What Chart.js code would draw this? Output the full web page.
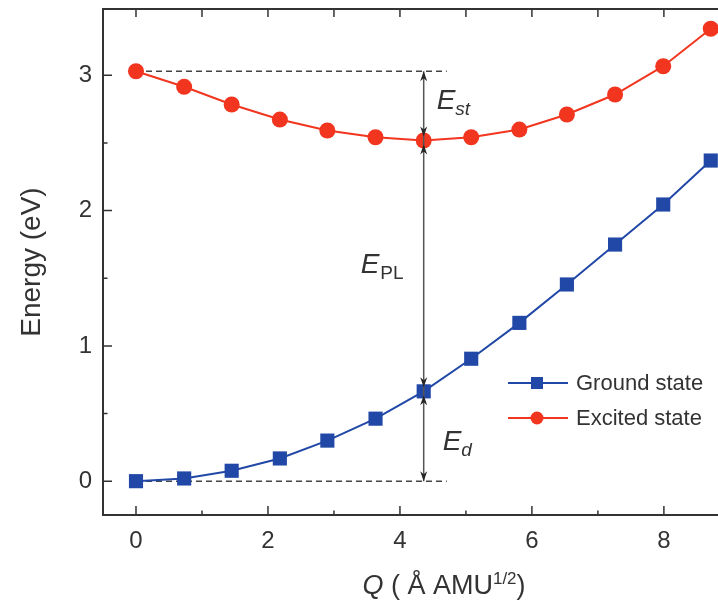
<!DOCTYPE html>
<html>
<head>
<meta charset="utf-8">
<script src="https://cdn.jsdelivr.net/npm/chart.js@4"></script>
<style>
  html, body { margin: 0; padding: 0; background: #ffffff; overflow: hidden; }
  canvas { display: block; }
</style>
</head>
<body>
<canvas id="cc" width="718" height="600"></canvas>
<script>
// Configuration coordinate Q (Å AMU^1/2)
const qValues = [0, 0.73, 1.45, 2.18, 2.90, 3.63, 4.36, 5.08, 5.81, 6.53, 7.26, 7.99, 8.71];
// Ground-state energy (eV)
const groundState = [0, 0.02, 0.077, 0.168, 0.30, 0.462, 0.664, 0.905, 1.170, 1.454, 1.749, 2.045, 2.37];
// Excited-state energy (eV)
const excitedState = [3.03, 2.915, 2.784, 2.673, 2.592, 2.542, 2.518, 2.542, 2.599, 2.71, 2.858, 3.067, 3.344];

const seriesNames = ['Ground state', 'Excited state'];
const xTickValues = [0, 2, 4, 6, 8];
const xMinorTicks = [1, 3, 5, 7];
const topTickValues = [0, 1, 2, 3, 4, 5, 6, 7, 8];
const yTickValues = [0, 1, 2, 3];
const yMinorTicks = [0.5, 1.5, 2.5];

// index of the excited-state minimum, where the energy arrows sit
const minIndex = 6;
// dashed reference lines run from Q = 0 to this Q
const refLineEnd = 4.71;

const FONT = '"Liberation Sans", Arial, Helvetica, sans-serif';
const AXIS = '#333333';
const BLUE = '#2148a6';
const RED = '#f1351f';

const toPoints = ys => qValues.map((q, i) => ({ x: q, y: ys[i] }));

function arrowHead(ctx, x, tipY, dir) {
  // dir = -1 points up, +1 points down
  const len = 10, half = 3.5;
  ctx.beginPath();
  ctx.moveTo(x, tipY);
  ctx.lineTo(x - half, tipY - dir * len);
  ctx.lineTo(x, tipY - dir * (len - 3));
  ctx.lineTo(x + half, tipY - dir * len);
  ctx.closePath();
  ctx.fill();
}

function subLabel(ctx, main, sub, x, baseline, subItalic) {
  ctx.font = 'italic 28px ' + FONT;
  ctx.textAlign = 'left';
  ctx.textBaseline = 'alphabetic';
  ctx.fillText(main, x, baseline);
  const w = ctx.measureText(main).width;
  ctx.font = (subItalic ? 'italic ' : '') + '19px ' + FONT;
  ctx.fillText(sub, x + w + (subItalic ? 0 : 1), baseline + 6);
}

const framePlugin = {
  id: 'frame',
  beforeDatasetsDraw(chart) {
    const { ctx, chartArea: a, scales: { x, y } } = chart;
    ctx.save();
    // axis box (left, bottom, top)
    ctx.strokeStyle = AXIS;
    ctx.lineWidth = 2;
    ctx.beginPath();
    ctx.moveTo(a.right + 2, a.top);
    ctx.lineTo(a.left, a.top);
    ctx.lineTo(a.left, a.bottom);
    ctx.lineTo(a.right + 2, a.bottom);
    ctx.stroke();

    // inward tick marks
    ctx.lineWidth = 1.5;
    ctx.beginPath();
    xTickValues.forEach(v => { const p = x.getPixelForValue(v); ctx.moveTo(p, a.bottom); ctx.lineTo(p, a.bottom - 9); });
    xMinorTicks.forEach(v => { const p = x.getPixelForValue(v); ctx.moveTo(p, a.bottom); ctx.lineTo(p, a.bottom - 4.5); });
    topTickValues.forEach(v => { const p = x.getPixelForValue(v); ctx.moveTo(p, a.top); ctx.lineTo(p, a.top + 8); });
    yTickValues.forEach(v => { const p = y.getPixelForValue(v); ctx.moveTo(a.left, p); ctx.lineTo(a.left + 9, p); });
    yMinorTicks.forEach(v => { const p = y.getPixelForValue(v); ctx.moveTo(a.left, p); ctx.lineTo(a.left + 4.5, p); });
    ctx.stroke();

    // dashed reference levels
    ctx.strokeStyle = '#444444';
    ctx.lineWidth = 1.4;
    ctx.setLineDash([6, 4]);
    const x0 = x.getPixelForValue(qValues[0]);
    const x1 = x.getPixelForValue(refLineEnd);
    [excitedState[0], groundState[0]].forEach(v => {
      const p = y.getPixelForValue(v);
      ctx.beginPath();
      ctx.moveTo(x0, p);
      ctx.lineTo(x1, p);
      ctx.stroke();
    });
    ctx.restore();
  },
  afterDatasetsDraw(chart) {
    const { ctx, scales: { x, y } } = chart;
    ctx.save();
    const ax = x.getPixelForValue(qValues[minIndex]);
    const yTop = y.getPixelForValue(excitedState[0]);
    const yMid = y.getPixelForValue(excitedState[minIndex]);
    const yLow = y.getPixelForValue(groundState[minIndex]);
    const yBot = y.getPixelForValue(groundState[0]);

    ctx.strokeStyle = '#555555';
    ctx.lineWidth = 1.5;
    ctx.beginPath();
    ctx.moveTo(ax, yTop);
    ctx.lineTo(ax, yBot);
    ctx.stroke();

    ctx.fillStyle = '#262626';
    const gap = 4;
    arrowHead(ctx, ax, yTop, -1);
    arrowHead(ctx, ax, yMid - gap, 1);
    arrowHead(ctx, ax, yMid + gap, -1);
    arrowHead(ctx, ax, yLow - gap, 1);
    arrowHead(ctx, ax, yLow + gap, -1);
    arrowHead(ctx, ax, yBot, 1);

    // energy labels
    ctx.fillStyle = '#333333';
    subLabel(ctx, 'E', 'st', ax + 13, yTop + 38, true);
    subLabel(ctx, 'E', 'PL', ax - 63, (yMid + yLow) / 2 + 7, false);
    subLabel(ctx, 'E', 'd', ax + 19, yBot - 31, true);
    ctx.restore();
  },
  afterDraw(chart) {
    const { ctx } = chart;
    ctx.save();
    ctx.fillStyle = '#333333';

    // legend
    const ds = chart.data.datasets;
    const lx0 = 508, lx1 = 568, lxm = 537, textX = 576;
    const rows = [383, 418];
    ds.forEach((d, i) => {
      const yy = rows[i];
      ctx.strokeStyle = d.borderColor;
      ctx.lineWidth = 2;
      ctx.beginPath();
      ctx.moveTo(lx0, yy);
      ctx.lineTo(lx1, yy);
      ctx.stroke();
      ctx.fillStyle = d.backgroundColor;
      ctx.beginPath();
      if (d.pointStyle === 'rect') ctx.rect(lxm - 6, yy - 6, 12, 12);
      else ctx.arc(lxm, yy, 6.5, 0, Math.PI * 2);
      ctx.fill();
      ctx.fillStyle = '#333333';
      ctx.font = '22px ' + FONT;
      ctx.textAlign = 'left';
      ctx.textBaseline = 'middle';
      ctx.fillText(d.label, textX, yy + 1);
    });

    // x-axis title: Q ( Å AMU^1/2 )
    const baseY = 594;
    const parts = [
      { t: 'Q', f: 'italic 27px ' + FONT, dy: 0 },
      { t: ' ( Å AMU', f: '27px ' + FONT, dy: 0 },
      { t: '1/2', f: '17px ' + FONT, dy: -10 },
      { t: ')', f: '27px ' + FONT, dy: 0 }
    ];
    let total = 0;
    parts.forEach(p => { ctx.font = p.f; p.w = ctx.measureText(p.t).width; total += p.w; });
    let cx = 444 - total / 2;
    ctx.textAlign = 'left';
    ctx.textBaseline = 'alphabetic';
    parts.forEach(p => { ctx.font = p.f; ctx.fillText(p.t, cx, baseY + p.dy); cx += p.w; });
    ctx.restore();
  }
};

new Chart(document.getElementById('cc'), {
  type: 'scatter',
  data: {
    datasets: [
      {
        label: seriesNames[0], data: toPoints(groundState), showLine: true,
        borderColor: BLUE, backgroundColor: BLUE, borderWidth: 2,
        pointStyle: 'rect', pointRadius: 10, pointBorderWidth: 0, clip: false
      },
      {
        label: seriesNames[1], data: toPoints(excitedState), showLine: true,
        borderColor: RED, backgroundColor: RED, borderWidth: 2,
        pointStyle: 'circle', pointRadius: 8, pointBorderWidth: 0, clip: false
      }
    ]
  },
  options: {
    responsive: false,
    animation: false,
    devicePixelRatio: 1,
    events: [],
    layout: { autoPadding: false, padding: { top: 9, left: 0, right: 0, bottom: 0 } },
    plugins: { legend: { display: false }, tooltip: { enabled: false } },
    scales: {
      x: {
        type: 'linear', min: -0.5, max: 8.82,
        grid: { display: false, drawTicks: false },
        border: { display: false },
        afterBuildTicks: s => { s.ticks = xTickValues.map(v => ({ value: v })); },
        afterFit: s => { s.height = 85; s.paddingLeft = 0; s.paddingRight = 0; },
        ticks: { font: { family: FONT, size: 24 }, color: AXIS, padding: 12, maxRotation: 0, autoSkip: false }
      },
      y: {
        type: 'linear', min: -0.25, max: 3.49,
        grid: { display: false, drawTicks: false },
        border: { display: false },
        afterBuildTicks: s => { s.ticks = yTickValues.map(v => ({ value: v })); },
        afterFit: s => { s.width = 103; s.paddingTop = 0; s.paddingBottom = 0; },
        ticks: { font: { family: FONT, size: 24 }, color: AXIS, padding: 11, autoSkip: false },
        title: { display: true, text: 'Energy (eV)', color: AXIS, font: { family: FONT, size: 28 }, padding: { top: 15, bottom: 0 } }
      }
    }
  },
  plugins: [framePlugin]
});
</script>
</body>
</html>
